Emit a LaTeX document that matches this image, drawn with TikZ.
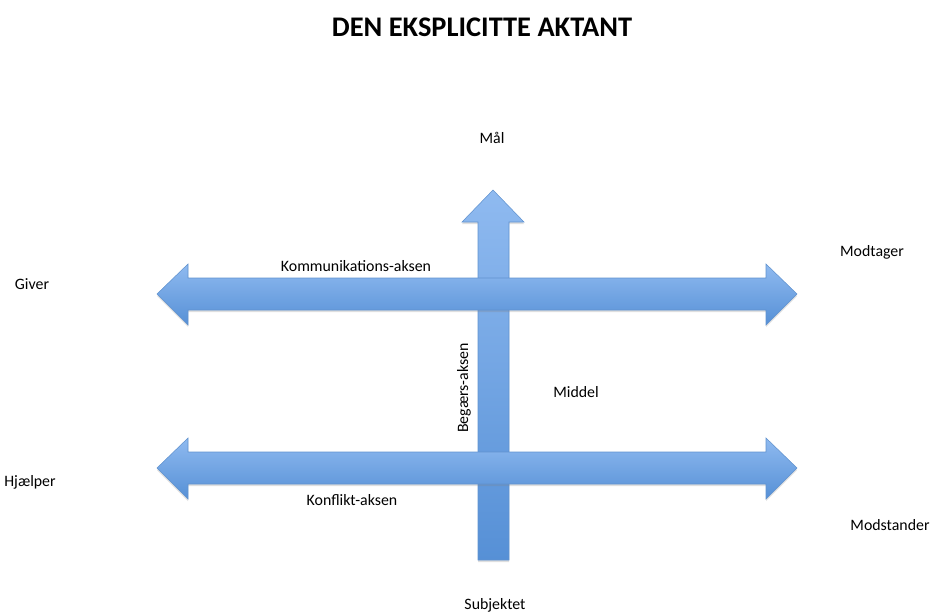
\documentclass[tikz,border=0pt]{standalone}
\usepackage{fontspec}
\setmainfont{Carlito}
\usetikzlibrary{shadows}
\definecolor{arrowtop}{RGB}{143,186,240}
\definecolor{arrowbot}{RGB}{86,144,214}
\definecolor{arrowline}{RGB}{96,146,206}

\begin{document}
\begin{tikzpicture}[x=0.75pt,y=-0.75pt,
    blockarrow/.style={top color=arrowtop, bottom color=arrowbot, draw=arrowline, line width=0.4pt,
      drop shadow={shadow xshift=0pt, shadow yshift=-1.5pt, opacity=0.25}},
    actant/.style={font=\fontsize{11.9}{13}\selectfont, inner sep=0pt},
    axislabel/.style={font=\fontsize{11.9}{13}\selectfont, inner sep=0pt}]
  \useasboundingbox (0,0) rectangle (930,613);
  % title
  \node[font=\fontsize{21.3}{24}\selectfont\bfseries] (title) at (482,27) {DEN EKSPLICITTE AKTANT};
  % Begaers-aksen, drawn first
  \shade[blockarrow] (478,560) -- (478,222) -- (462,222) -- (493,190) -- (524,222) -- (509,222) -- (509,560) -- cycle;
  % Kommunikations-aksen
  \shade[blockarrow] (157,294) -- (188,264) -- (188,278) -- (766,278) -- (766,264) -- (797,294)
    -- (766,325) -- (766,310) -- (188,310) -- (188,325) -- cycle;
  % Konflikt-aksen
  \shade[blockarrow] (157,468) -- (188,438) -- (188,452) -- (766,452) -- (766,438) -- (797,468)
    -- (766,499) -- (766,484) -- (188,484) -- (188,499) -- cycle;
  % aktanter
  \node[actant] (maal) at (492,138) {Mål};
  \node[actant] (giver) at (32,284) {Giver};
  \node[actant] (modtager) at (872,252) {Modtager};
  \node[actant] (middel) at (576,392) {Middel};
  \node[actant] (hjaelper) at (30,482) {Hjælper};
  \node[actant] (modstander) at (890,525) {Modstander};
  \node[actant] (subjekt) at (495,605) {Subjektet};
  % akser
  \node[axislabel] (kommakse) at (356,266) {Kommunikations-aksen};
  \node[axislabel, rotate=90] (begakse) at (464,388) {Begærs-aksen};
  \node[axislabel] (konfakse) at (352,500) {Konflikt-aksen};
\end{tikzpicture}
\end{document}
